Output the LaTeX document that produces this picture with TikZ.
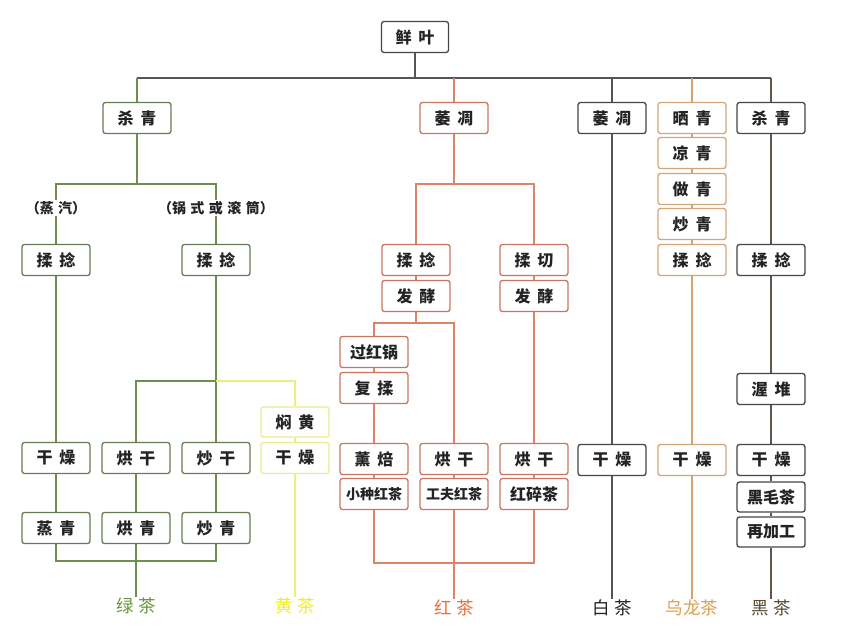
\documentclass[tikz,border=0pt]{standalone}
\usepackage{fontspec}
\newfontfamily\cjk{Noto Sans CJK SC}
\newcommand\zg{\hspace{7pt}}
\newcommand\zs{\hspace{4.5pt}}
\newcommand\zt{\hspace{5pt}}
\definecolor{txt}{RGB}{35,35,35}
\definecolor{grnline}{RGB}{110,142,80}
\definecolor{grnbox}{RGB}{100,125,80}
\definecolor{ylwline}{RGB}{236,240,120}
\definecolor{ylwbox}{RGB}{232,238,140}
\definecolor{ylwlab}{RGB}{238,238,40}
\definecolor{redline}{RGB}{222,132,102}
\definecolor{redbox}{RGB}{200,118,98}
\definecolor{redlab}{RGB}{235,110,60}
\definecolor{dkline}{RGB}{85,85,85}
\definecolor{dkbox}{RGB}{70,70,70}
\definecolor{blkline}{RGB}{95,85,75}
\definecolor{oolline}{RGB}{215,160,110}
\definecolor{oolbox}{RGB}{212,165,120}
\definecolor{oollab}{RGB}{220,160,80}
\definecolor{grnlab}{RGB}{105,150,60}
\definecolor{blklab}{RGB}{90,75,50}
\begin{document}
\begin{tikzpicture}[x=1pt,y=-1pt,
  box/.style={draw, rounded corners=2.5pt, line width=1.3pt, fill=white,
    minimum width=68pt, minimum height=31pt, inner sep=0pt,
    font=\cjk\bfseries\fontsize{16}{16}\selectfont, text=txt},
  small/.style={font=\cjk\bfseries\fontsize{14}{14}\selectfont},
  gbox/.style={box, draw=grnbox},
  ybox/.style={box, draw=ylwbox},
  rbox/.style={box, draw=redbox},
  dbox/.style={box, draw=dkbox},
  obox/.style={box, draw=oolbox},
  gl/.style={draw=grnline, line width=1.3pt},
  yl/.style={draw=ylwline, line width=1.3pt},
  rl/.style={draw=redline, line width=1.3pt},
  dl/.style={draw=dkline, line width=1.3pt},
  bl/.style={draw=blkline, line width=1.3pt},
  ol/.style={draw=oolline, line width=1.3pt},
  teatag/.style={font=\cjk\fontsize{17.5}{17.5}\selectfont, inner sep=1pt, anchor=north},
  sublab/.style={font=\cjk\bfseries\fontsize{14}{14}\selectfont, text=txt, inner sep=1pt}
]
\useasboundingbox (0,0) rectangle (843,643);
\fill[white] (0,0) rectangle (843,643);

% coordinates for junctions
\coordinate (bar) at (415,78);
\coordinate (gsplit) at (137,184);
\coordinate (gy) at (216,381);
\coordinate (gbot) at (136,561);
\coordinate (rsplit) at (454,184);
\coordinate (rsplit2) at (416,323);
\coordinate (rbot) at (454,563);

% nodes
\node[dbox, minimum width=67pt] (root) at (415,37) {鲜\zg 叶};

% green
\node[gbox] (gkill) at (137,118) {杀\zg 青};
\node[sublab] (steamlab) at (56,208) {（蒸\zs 汽）};
\node[sublab] (panlab) at (216,208) {（锅\zs 式\zs 或\zs 滚\zs 筒）};
\node[gbox] (grub1) at (56,260) {揉\zg 捻};
\node[gbox] (grub2) at (216,260) {揉\zg 捻};
\node[gbox] (gdry) at (56,458) {干\zg 燥};
\node[gbox] (gbake) at (136,458) {烘\zg 干};
\node[gbox] (gfry) at (216,458) {炒\zg 干};
\node[gbox] (gsteam) at (56,528) {蒸\zg 青};
\node[gbox] (gbakeq) at (136,528) {烘\zg 青};
\node[gbox] (gfryq) at (216,528) {炒\zg 青};
\node[teatag, text=grnlab] (glab) at (136,597) {绿\zt 茶};

% yellow
\node[ybox, minimum height=30pt] (ymen) at (295,422) {焖\zg 黄};
\node[ybox] (ydry) at (295,458) {干\zg 燥};
\node[teatag, text=ylwlab] (ylab) at (295,597) {黄\zt 茶};

% red
\node[rbox] (rwit) at (454,118) {萎\zg 凋};
\node[rbox] (rrub) at (416,260) {揉\zg 捻};
\node[rbox] (rfer1) at (416,296) {发\zg 酵};
\node[rbox] (rcut) at (534,260) {揉\zg 切};
\node[rbox] (rfer2) at (534,296) {发\zg 酵};
\node[rbox] (rguo) at (374,352) {过红锅};
\node[rbox] (rfu) at (374,388) {复\zg 揉};
\node[rbox] (rxun) at (374,459) {薰\zg 焙};
\node[rbox, small] (rxiao) at (374,494) {小种红茶};
\node[rbox] (rbake1) at (454,459) {烘\zg 干};
\node[rbox, small] (rgong) at (454,494) {工夫红茶};
\node[rbox] (rbake2) at (534,459) {烘\zg 干};
\node[rbox] (rsui) at (534,494) {红碎茶};
\node[teatag, text=redlab] (rlab) at (454,599) {红\zt 茶};

% white
\node[dbox] (wwit) at (612,118) {萎\zg 凋};
\node[dbox] (wdry) at (612,460) {干\zg 燥};
\node[teatag, text=txt] (wlab) at (612,599) {白\zt 茶};

% oolong
\node[obox] (o1) at (692,118) {晒\zg 青};
\node[obox] (o2) at (692,153) {凉\zg 青};
\node[obox] (o3) at (692,189) {做\zg 青};
\node[obox] (o4) at (692,224) {炒\zg 青};
\node[obox] (o5) at (692,260) {揉\zg 捻};
\node[obox] (odry) at (692,460) {干\zg 燥};
\node[teatag, text=oollab] (olab) at (692,599) {乌龙茶};

% black
\node[dbox] (bkill) at (771,118) {杀\zg 青};
\node[dbox] (brub) at (771,260) {揉\zg 捻};
\node[dbox] (bwo) at (771,389) {渥\zg 堆};
\node[dbox] (bdry) at (771,460) {干\zg 燥};
\node[dbox, minimum height=30pt] (bmao) at (771,497) {黑毛茶};
\node[dbox, minimum height=30pt] (bre) at (771,532) {再加工};
\node[teatag, text=blklab] (blab) at (771,599) {黑\zt 茶};

% top bar
\path[dl] (root.south) -- (bar);
\path[dl] (gkill.north |- bar) -- (bkill.north |- bar);
\path[gl] (gkill.north |- bar) -- (gkill.north);
\path[rl] (rwit.north |- bar) -- (rwit.north);
\path[dl] (wwit.north |- bar) -- (wwit.north);
\path[ol] (o1.north |- bar) -- (o1.north);
\path[bl] (bkill.north |- bar) -- (bkill.north);

% green
\path[gl] (gkill.south) -- (gsplit);
\path[gl] (steamlab.north) -- (steamlab.north |- gsplit) -- (panlab.north |- gsplit) -- (panlab.north);
\path[gl] (steamlab.south) -- (grub1.north);
\path[gl] (panlab.south) -- (grub2.north);
\path[gl] (grub1.south) -- (gdry.north);
\path[gl] (gdry.south) -- (gsteam.north);
\path[gl] (grub2.south) -- (gfry.north);
\path[gl] (gfry.south) -- (gfryq.north);
\path[gl] (gbake.north) |- (gy);
\path[gl] (gbake.south) -- (gbakeq.north);
\path[gl] (gsteam.south) |- (gfryq.south |- gbot) -- (gfryq.south);
\path[gl] (gbakeq.south) -- (glab.north);

% yellow
\path[yl] (gy) -| (ymen.north);
\path[yl] (ymen.south) -- (ydry.north);
\path[yl] (ydry.south) -- (ylab.north);

% red
\path[rl] (rwit.south) -- (rsplit);
\path[rl] (rrub.north) |- (rsplit) -| (rcut.north);
\path[rl] (rrub.south) -- (rfer1.north);
\path[rl] (rcut.south) -- (rfer2.north);
\path[rl] (rfer1.south) -- (rsplit2);
\path[rl] (rguo.north) |- (rsplit2) -| (rbake1.north);
\path[rl] (rguo.south) -- (rfu.north);
\path[rl] (rfu.south) -- (rxun.north);
\path[rl] (rxun.south) -- (rxiao.north);
\path[rl] (rbake1.south) -- (rgong.north);
\path[rl] (rfer2.south) -- (rbake2.north);
\path[rl] (rbake2.south) -- (rsui.north);
\path[rl] (rxiao.south) |- (rsui.south |- rbot) -- (rsui.south);
\path[rl] (rgong.south) -- (rlab.north);

% white
\path[dl] (wwit.south) -- (wdry.north);
\path[dl] (wdry.south) -- (wlab.north);

% oolong
\path[ol] (o1.south) -- (o2.north);
\path[ol] (o2.south) -- (o3.north);
\path[ol] (o3.south) -- (o4.north);
\path[ol] (o4.south) -- (o5.north);
\path[ol] (o5.south) -- (odry.north);
\path[ol] (odry.south) -- (olab.north);

% black
\path[bl] (bkill.south) -- (brub.north);
\path[bl] (brub.south) -- (bwo.north);
\path[bl] (bwo.south) -- (bdry.north);
\path[bl] (bdry.south) -- (bmao.north);
\path[bl] (bmao.south) -- (bre.north);
\path[bl] (bre.south) -- (blab.north);
\end{tikzpicture}
\end{document}
